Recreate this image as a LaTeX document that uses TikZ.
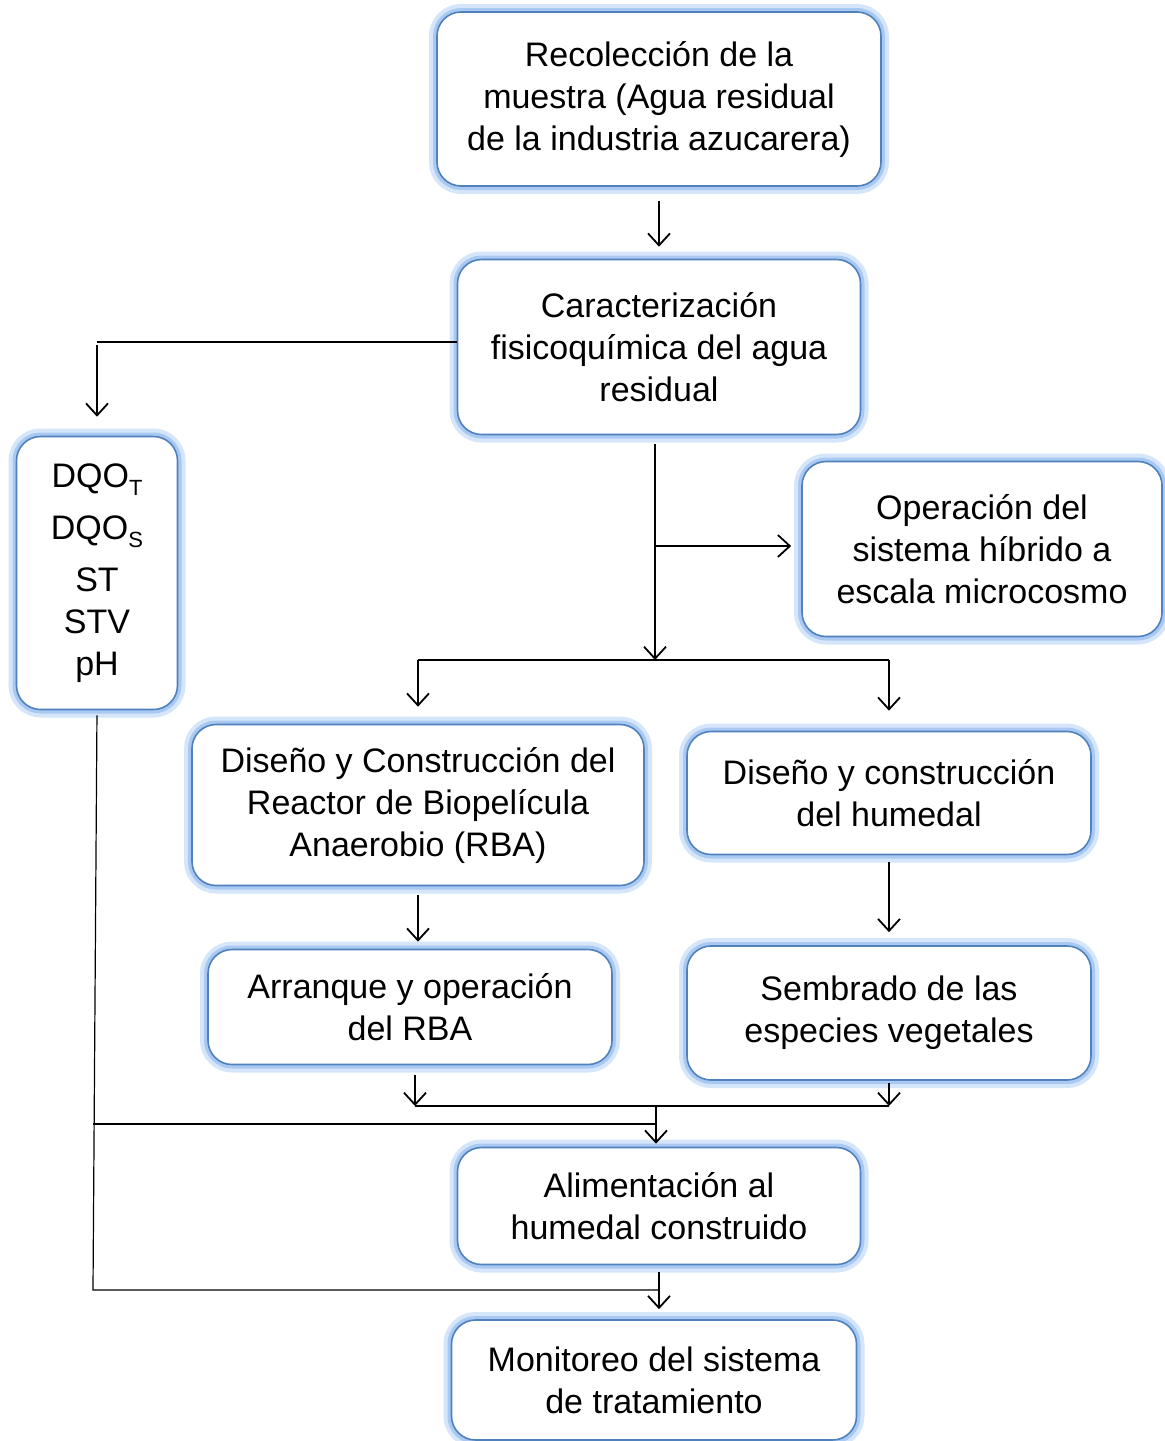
\documentclass[tikz,border=0pt]{standalone}
\usepackage{fontspec}
\setmainfont{Liberation Sans}
\usepackage{tikz}
\usetikzlibrary{arrows.meta, positioning, calc}
\definecolor{borde}{HTML}{4F81BD}
\definecolor{brillo}{HTML}{A9C9F2}
\definecolor{brillob}{HTML}{D6E6FA}
\newcommand{\sub}[1]{\raisebox{-4pt}{\fontsize{11}{11}\selectfont #1}}

\begin{document}
\begin{tikzpicture}
[
  x=0.5pt, y=-0.5pt,
  every node/.style={font=\fontsize{17}{21}\selectfont, align=center, inner sep=2pt},
  caja/.style={draw=borde, line width=0.8pt, fill=white, rounded corners=12pt,
    preaction={draw=brillob, line width=8pt, rounded corners=12pt},
    preaction={draw=brillo, line width=4pt, rounded corners=12pt}},
  flecha/.style={-{Straight Barb[length=6pt,width=11pt]}, line width=0.9pt},
  linea/.style={line width=0.6pt}
]
\useasboundingbox (0,0) rectangle (1164,1441);

\node[caja, minimum width=222pt, minimum height=87pt] (rec) at (659,99) {Recolección de la\\muestra (Agua residual\\de la industria azucarera)};
\node[caja, minimum width=201.5pt, minimum height=87.5pt] (car) at (659,347) {Caracterización\\fisicoquímica del agua\\residual};
\node[caja, minimum width=80.5pt, minimum height=136.5pt] (dqo) at (97,573) {DQO\sub{T}\\[5pt]DQO\sub{S}\\[5pt]ST\\STV\\pH};
\node[caja, minimum width=180pt, minimum height=87.5pt] (ope) at (982,549) {Operación del\\sistema híbrido a\\escala microcosmo};
\node[caja, minimum width=226pt, minimum height=80.5pt] (rba) at (418,805) {Diseño y Construcción del\\Reactor de Biopelícula\\Anaerobio (RBA)};
\node[caja, minimum width=202pt, minimum height=61.5pt] (hum) at (889,793) {Diseño y construcción\\del humedal};
\node[caja, minimum width=202pt, minimum height=57.5pt] (arr) at (410,1007) {Arranque y operación\\del RBA};
\node[caja, minimum width=202pt, minimum height=67pt] (sem) at (889,1013) {Sembrado de las\\especies vegetales};
\node[caja, minimum width=201.5pt, minimum height=58.5pt] (ali) at (659,1206) {Alimentación al\\humedal construido};
\node[caja, minimum width=202.5pt, minimum height=60pt] (mon) at (654,1380) {Monitoreo del sistema\\de tratamiento};

% puntos de union
\coordinate (c1) at (97,342);
\coordinate (c2) at (655,660);
\coordinate (c3) at (655,546);
\coordinate (c4) at (415,1106);
\coordinate (c5) at (889,1106);
\coordinate (c6) at (656,1106);
\coordinate (c7) at (93,1124);
\coordinate (c8) at (93,1290);

\draw[flecha, shorten <=7pt, shorten >=6pt] (rec.south) -- (car.north);
\draw[linea] (car.west |- c1) -- (c1);
\draw[flecha, shorten <=1.5pt, shorten >=9.5pt] (c1) -- (dqo.north);
\draw[flecha, shorten <=4.5pt] (c2 |- car.south) -- (c2);
\draw[flecha, shorten >=5pt] (c3) -- (c3 -| ope.west);
\draw[linea] (c2 -| rba.north) -- (c2 -| hum.north);
\draw[flecha, shorten >=8.5pt] (c2 -| rba.north) -- (rba.north);
\draw[flecha, shorten >=10pt] (c2 -| hum.north) -- (hum.north);
\draw[flecha, shorten <=4.5pt, shorten >=3.5pt] (rba.south) -- (rba.south |- arr.north);
\draw[flecha, shorten <=3.5pt, shorten >=6.5pt] (hum.south) -- (sem.north);
\draw[flecha, shorten <=5pt] (c4 |- arr.south) -- (c4);
\draw[flecha, shorten <=1pt] (sem.south) -- (c5);
\draw[linea] (c4) -- (c5);
\draw[flecha, shorten >=1.5pt] (c6) -- (c6 |- ali.north);
\draw[linea] (c7) -- (c7 -| c6);
\draw[linea, shorten <=2.5pt] (dqo.south) -- (c8) -- (c8 -| ali.south);
\draw[flecha, shorten <=3.5pt, shorten >=5pt] (ali.south) -- (ali.south |- mon.north);
\end{tikzpicture}
\end{document}
